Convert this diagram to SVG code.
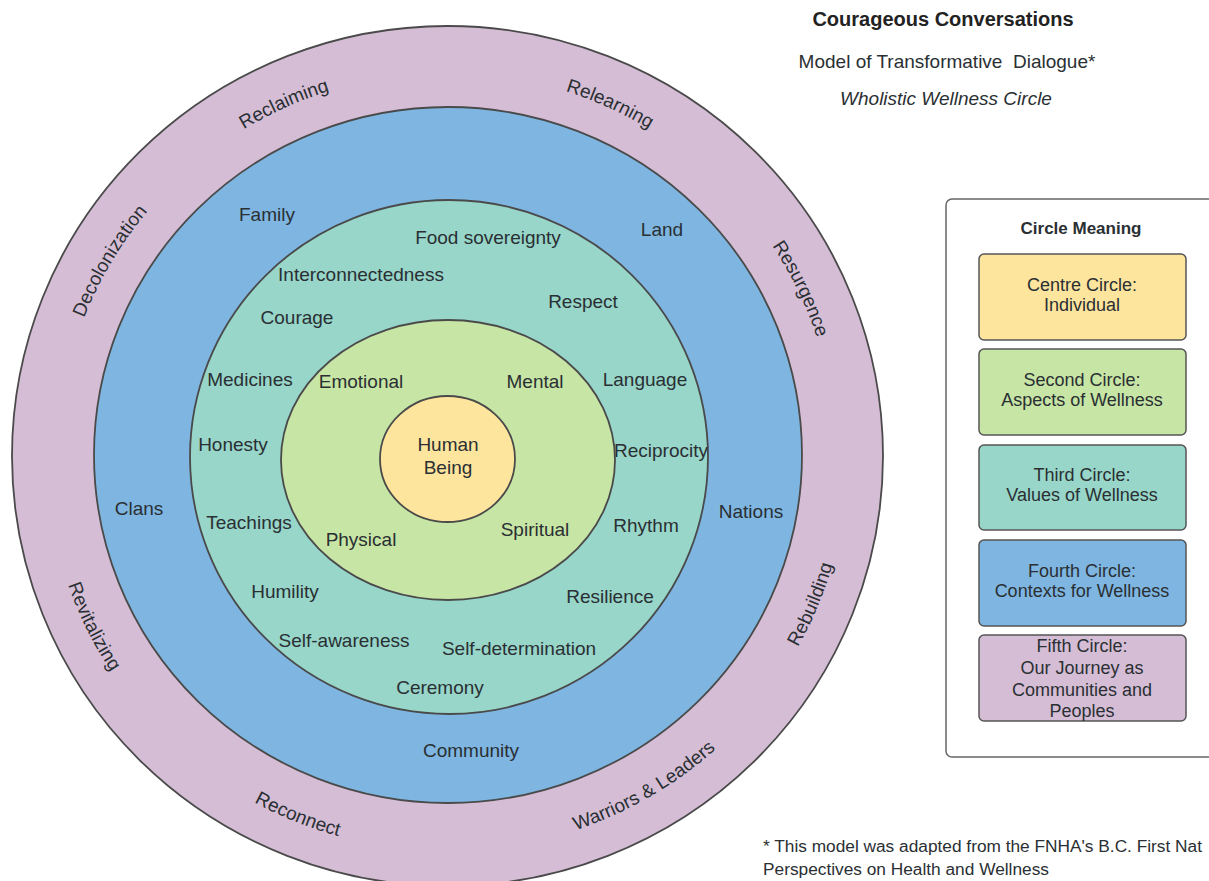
<svg xmlns="http://www.w3.org/2000/svg" xmlns:xlink="http://www.w3.org/1999/xlink" width="1209" height="881" viewBox="0 0 1209 881">
<style>
text{font-family:"Liberation Sans",Arial,sans-serif;font-size:19px;fill:#2a2f33}
.c{text-anchor:middle}
.ring{stroke:#4a4a4a;stroke-width:1.8}
.p{fill:#d5bed5}.b{fill:#7eb6e1}.t{fill:#97d6c9}.g{fill:#c7e5a5}.y{fill:#fde59e}
.lb{stroke:#555;stroke-width:1.5}
.lt{font-size:18px}
.title{font-size:20px;font-weight:bold;fill:#222}
.it{font-style:italic}
.fn{font-size:17.3px}
</style>
<defs>
<path id="cw" d="M58,456 A389,383 0 1 1 836,456 A389,383 0 1 1 58,456"/>
<path id="ccw" d="M46,456 A401,395 0 1 0 848,456 A401,395 0 1 0 46,456"/>
</defs>
<rect width="1209" height="881" fill="#fff"/>
<g id="fifth-circle">
<ellipse class="ring p" cx="447.5" cy="456" rx="435.5" ry="430"/>
<text><textPath xlink:href="#cw" href="#cw" startOffset="8.4%" text-anchor="middle">Decolonization</textPath></text>
<text><textPath xlink:href="#cw" href="#cw" startOffset="18.14%" text-anchor="middle">Reclaiming</textPath></text>
<text><textPath xlink:href="#cw" href="#cw" startOffset="31.86%" text-anchor="middle">Relearning</textPath></text>
<text><textPath xlink:href="#cw" href="#cw" startOffset="42.92%" text-anchor="middle">Resurgence</textPath></text>
<text><textPath xlink:href="#ccw" href="#ccw" startOffset="7.2%" text-anchor="middle">Revitalizing</textPath></text>
<text><textPath xlink:href="#ccw" href="#ccw" startOffset="18.78%" text-anchor="middle">Reconnect</textPath></text>
<text><textPath xlink:href="#ccw" href="#ccw" startOffset="33.5%" text-anchor="middle">Warriors &amp; Leaders</textPath></text>
<text><textPath xlink:href="#ccw" href="#ccw" startOffset="43.8%" text-anchor="middle">Rebuilding</textPath></text>
</g>
<g id="fourth-circle">
<ellipse class="ring b" cx="448" cy="455" rx="354" ry="348"/>
<text class="c" x="267" y="221">Family</text>
<text class="c" x="662" y="236">Land</text>
<text class="c" x="139" y="515">Clans</text>
<text class="c" x="751" y="518">Nations</text>
<text class="c" x="471" y="757">Community</text>
</g>
<g id="third-circle">
<ellipse class="ring t" cx="449" cy="457" rx="259" ry="257"/>
<text class="c" x="488" y="244">Food sovereignty</text>
<text class="c" x="361" y="281">Interconnectedness</text>
<text class="c" x="583" y="308">Respect</text>
<text class="c" x="297" y="324">Courage</text>
<text class="c" x="250" y="386">Medicines</text>
<text class="c" x="645" y="386">Language</text>
<text class="c" x="233" y="451">Honesty</text>
<text class="c" x="661" y="457">Reciprocity</text>
<text class="c" x="249" y="529">Teachings</text>
<text class="c" x="646" y="532">Rhythm</text>
<text class="c" x="285" y="598">Humility</text>
<text class="c" x="610" y="603">Resilience</text>
<text class="c" x="344" y="647">Self-awareness</text>
<text class="c" x="519" y="655">Self-determination</text>
<text class="c" x="440" y="694">Ceremony</text>
</g>
<g id="second-circle">
<ellipse class="ring g" cx="448" cy="460" rx="167" ry="140"/>
<text class="c" x="361" y="388">Emotional</text>
<text class="c" x="535" y="388">Mental</text>
<text class="c" x="361" y="546">Physical</text>
<text class="c" x="535" y="536">Spiritual</text>
</g>
<g id="centre-circle">
<ellipse class="ring y" cx="447.5" cy="459" rx="67.5" ry="63"/>
<text class="c" x="448" y="451">Human</text>
<text class="c" x="448" y="474">Being</text>
</g>
<g id="connectors"></g>
<g id="title">
<text class="c title" x="943" y="26">Courageous Conversations</text>
<text class="c" x="947" y="68" xml:space="preserve" style="white-space:pre">Model of Transformative  Dialogue*</text>
<text class="c it" x="946" y="105">Wholistic Wellness Circle</text>
</g>
<g id="legend">
<rect x="946" y="199" width="280" height="558" rx="6" fill="#fff" stroke="#666" stroke-width="1.5"/>
<text class="c" x="1081" y="234" style="font-weight:bold;font-size:17px">Circle Meaning</text>
<g id="legend-centre">
<rect class="lb y" x="979" y="254" width="207" height="86" rx="5"/>
<text class="c lt" x="1082" y="291">Centre Circle:</text>
<text class="c lt" x="1082" y="311">Individual</text>
</g>
<g id="legend-second">
<rect class="lb g" x="979" y="349" width="207" height="86" rx="5"/>
<text class="c lt" x="1082" y="386">Second Circle:</text>
<text class="c lt" x="1082" y="406">Aspects of Wellness</text>
</g>
<g id="legend-third">
<rect class="lb t" x="979" y="445" width="207" height="85" rx="5"/>
<text class="c lt" x="1082" y="481">Third Circle:</text>
<text class="c lt" x="1082" y="501">Values of Wellness</text>
</g>
<g id="legend-fourth">
<rect class="lb b" x="979" y="540" width="207" height="86" rx="5"/>
<text class="c lt" x="1082" y="577">Fourth Circle:</text>
<text class="c lt" x="1082" y="597">Contexts for Wellness</text>
</g>
<g id="legend-fifth">
<rect class="lb p" x="979" y="635" width="207" height="86" rx="5"/>
<text class="c lt" x="1082" y="652">Fifth Circle:</text>
<text class="c lt" x="1082" y="674">Our Journey as</text>
<text class="c lt" x="1082" y="696">Communities and</text>
<text class="c lt" x="1082" y="717">Peoples</text>
</g>
</g>
<g id="footnote">
<text class="fn" x="763" y="852">* This model was adapted from the FNHA's B.C. First Nat</text>
<text class="fn" x="763" y="875">Perspectives on Health and Wellness</text>
</g>
</svg>
